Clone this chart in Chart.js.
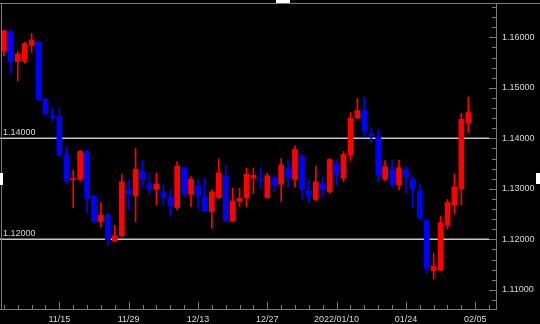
<!DOCTYPE html>
<html lang="en">
<head>
<meta charset="UTF-8">
<title>Candles</title>
<style>
  html, body { margin: 0; padding: 0; background: #000; }
  #wrap { position: relative; width: 540px; height: 324px; }
  .grip { position: absolute; background: #fff; }
</style>
</head>
<body>
<div id="wrap">
  <canvas id="chart" width="540" height="324"></canvas>
  <div class="grip" style="left:276px;top:0;width:14px;height:3px"></div>
  <div class="grip" style="left:0;top:173px;width:3px;height:12px"></div>
  <div class="grip" style="left:536px;top:173px;width:4px;height:11px"></div>
</div>
<script src="https://cdn.jsdelivr.net/npm/chart.js@4.4.1/dist/chart.umd.min.js"></script>
<script>
// daily candles
const opens = [1.1573, 1.1611, 1.1552, 1.1554, 1.1584, 1.1591, 1.1478, 1.1444, 1.1443, 1.1367,
  1.1319, 1.1319, 1.1374, 1.1286, 1.1235, 1.1248, 1.1197, 1.1207, 1.1298, 1.1286,
  1.1334, 1.1311, 1.1300, 1.1294, 1.1283, 1.1263, 1.1342, 1.1289, 1.1306, 1.1284,
  1.1255, 1.1283, 1.1325, 1.1236, 1.1275, 1.1282, 1.1321, 1.1320, 1.1283, 1.1321,
  1.1309, 1.1341, 1.1319, 1.1365, 1.1296, 1.1279, 1.1310, 1.1294, 1.1349, 1.1321,
  1.1367, 1.1440, 1.1455, 1.1410, 1.1403, 1.1319, 1.1339, 1.1308, 1.1339, 1.1319,
  1.1296, 1.1237, 1.1138, 1.1139, 1.1228, 1.1268, 1.1300, 1.1430]
const highs = [1.1615, 1.1616, 1.1572, 1.1591, 1.1608, 1.1593, 1.1479, 1.1461, 1.1461, 1.1383,
  1.1337, 1.1376, 1.1376, 1.1287, 1.1273, 1.1252, 1.1228, 1.1329, 1.1317, 1.1380,
  1.1356, 1.1332, 1.1331, 1.1309, 1.1298, 1.1354, 1.1344, 1.1324, 1.1319, 1.1322,
  1.1298, 1.1359, 1.1347, 1.1301, 1.1301, 1.1341, 1.1341, 1.1341, 1.1331, 1.1327,
  1.1360, 1.1358, 1.1385, 1.1367, 1.1319, 1.1345, 1.1324, 1.1360, 1.1358, 1.1374,
  1.1451, 1.1479, 1.1482, 1.1422, 1.1418, 1.1356, 1.1357, 1.1357, 1.1344, 1.1324,
  1.1310, 1.1238, 1.1172, 1.1246, 1.1279, 1.1329, 1.1450, 1.1482]
const lows = [1.1563, 1.1530, 1.1514, 1.1549, 1.1570, 1.1475, 1.1446, 1.1435, 1.1365, 1.1311,
  1.1263, 1.1315, 1.1252, 1.1232, 1.1225, 1.1189, 1.1195, 1.1204, 1.1258, 1.1235,
  1.1304, 1.1288, 1.1268, 1.1268, 1.1246, 1.1258, 1.1284, 1.1265, 1.1261, 1.1255,
  1.1222, 1.1281, 1.1235, 1.1235, 1.1265, 1.1265, 1.1291, 1.1301, 1.1281, 1.1294,
  1.1275, 1.1304, 1.1304, 1.1278, 1.1273, 1.1276, 1.1284, 1.1291, 1.1308, 1.1314,
  1.1356, 1.1438, 1.1403, 1.1391, 1.1314, 1.1316, 1.1304, 1.1298, 1.1291, 1.1263,
  1.1238, 1.1133, 1.1121, 1.1138, 1.1220, 1.1250, 1.1268, 1.1411]
const closes = [1.1613, 1.1552, 1.1567, 1.1588, 1.1595, 1.1477, 1.1448, 1.1442, 1.1367, 1.1317,
  1.1321, 1.1374, 1.1281, 1.1235, 1.1248, 1.1199, 1.1207, 1.1314, 1.1292, 1.1339,
  1.1319, 1.1298, 1.1310, 1.1282, 1.1267, 1.1345, 1.1291, 1.1319, 1.1286, 1.1256,
  1.1294, 1.1332, 1.1237, 1.1276, 1.1281, 1.1329, 1.1327, 1.1318, 1.1326, 1.1308,
  1.1347, 1.1324, 1.1378, 1.1298, 1.1286, 1.1314, 1.1298, 1.1358, 1.1329, 1.1368,
  1.1440, 1.1455, 1.1415, 1.1405, 1.1327, 1.1344, 1.1309, 1.1342, 1.1324, 1.1301,
  1.1242, 1.1143, 1.1147, 1.1233, 1.1273, 1.1304, 1.1438, 1.1451]

// x axis labels sit on these bar positions
const tickIndex = [8, 18, 28, 38, 48, 58, 68]
const tickText = ['11/15', '11/29', '12/13', '12/27', '2022/01/10', '01/24', '02/05']

const priceTicks = [1.11, 1.12, 1.13, 1.14, 1.15, 1.16]
const levels = [1.14, 1.12]

const UP = '#ff0000'
const DOWN = '#0000ff'
const FRAME = '#7a7a7a'
const TEXT = '#d8d8d8'
const FONT = 'Liberation Sans, Arial, sans-serif'

const idx = opens.map((v, i) => i)
const colors = idx.map(i => closes[i] > opens[i] ? UP : DOWN)

// frame, inward ticks and the two level lines
const frame = {
  id: 'frame',
  beforeDatasetsDraw(chart) {
    const {ctx, chartArea: a, scales: {y}} = chart
    ctx.save()
    ctx.strokeStyle = '#c4c4c4'
    ctx.lineWidth = 1.5
    ctx.fillStyle = TEXT
    ctx.font = '9px ' + FONT
    ctx.textBaseline = 'alphabetic'
    levels.forEach(v => {
      const py = Math.round(y.getPixelForValue(v)) + 0.25
      ctx.beginPath()
      ctx.moveTo(a.left, py)
      ctx.lineTo(a.right - 7, py)
      ctx.stroke()
      ctx.fillText(v.toFixed(5), 3, py - 3.5)
    })
    ctx.restore()
  },
  afterDraw(chart) {
    const {ctx, chartArea: a, scales: {x, y}} = chart
    ctx.save()
    ctx.strokeStyle = FRAME
    ctx.lineWidth = 1
    ctx.beginPath()
    // top
    ctx.moveTo(0, a.top + 0.5); ctx.lineTo(540, a.top + 0.5)
    // left
    ctx.moveTo(1.5, a.top); ctx.lineTo(1.5, a.bottom)
    // right axis
    ctx.moveTo(a.right + 0.5, a.top); ctx.lineTo(a.right + 0.5, a.bottom + 1)
    // bottom axis
    ctx.moveTo(0, a.bottom + 0.5); ctx.lineTo(a.right, a.bottom + 0.5)
    // price ticks every 0.002
    for (let k = 0; k <= 30; k++) {
      const v = 1.108 + k * 0.002
      const py = Math.round(y.getPixelForValue(v)) + 0.5
      if (py < a.top || py > a.bottom) continue
      const len = k % 5 === 1 ? 7 : 4
      ctx.moveTo(a.right - len, py); ctx.lineTo(a.right, py)
    }
    // time ticks every 2 bars
    for (let i = 0; i <= 70; i += 2) {
      const px = Math.round(x.getPixelForValue(i)) + 0.5
      const len = tickIndex.includes(i) ? 7 : 4
      ctx.moveTo(px, a.bottom - len); ctx.lineTo(px, a.bottom)
    }
    ctx.stroke()
    ctx.restore()
  }
}

new Chart(document.getElementById('chart'), {
  type: 'bar',
  data: {
    datasets: [
      {
        label: 'wick',
        data: idx.map(i => ({x: i, y: [lows[i], highs[i]]})),
        backgroundColor: colors,
        barThickness: 1,
        grouped: false
      },
      {
        label: 'body',
        data: idx.map(i => ({x: i, y: [opens[i], closes[i]]})),
        backgroundColor: colors,
        barThickness: 5,
        minBarLength: 1,
        grouped: false
      }
    ]
  },
  options: {
    responsive: false,
    animation: false,
    devicePixelRatio: 1,
    layout: { padding: { top: 3, left: 0, right: 0, bottom: 0 } },
    plugins: { legend: { display: false }, tooltip: { enabled: false } },
    scales: {
      x: {
        type: 'linear',
        offset: false,
        min: -0.56,
        max: 71.0,
        grid: { display: false, drawTicks: false },
        border: { display: false },
        afterBuildTicks: s => { s.ticks = tickIndex.map(v => ({value: v})) },
        afterFit: s => { s.height = 15; s.paddingLeft = 0; s.paddingRight = 0 },
        ticks: {
          autoSkip: false,
          maxRotation: 0,
          color: TEXT,
          padding: 5,
          font: { family: FONT, size: 9 },
          callback: v => tickText[tickIndex.indexOf(v)]
        }
      },
      y: {
        position: 'right',
        min: 1.1062,
        max: 1.1668,
        grid: { display: false, drawTicks: false },
        border: { display: false },
        afterBuildTicks: s => { s.ticks = priceTicks.map(v => ({value: v})) },
        afterFit: s => { s.width = 44; s.paddingTop = 0; s.paddingBottom = 0 },
        ticks: {
          color: TEXT,
          padding: 6,
          font: { family: FONT, size: 9 },
          callback: v => v.toFixed(5)
        }
      }
    }
  },
  plugins: [frame]
})
</script>
</body>
</html>
